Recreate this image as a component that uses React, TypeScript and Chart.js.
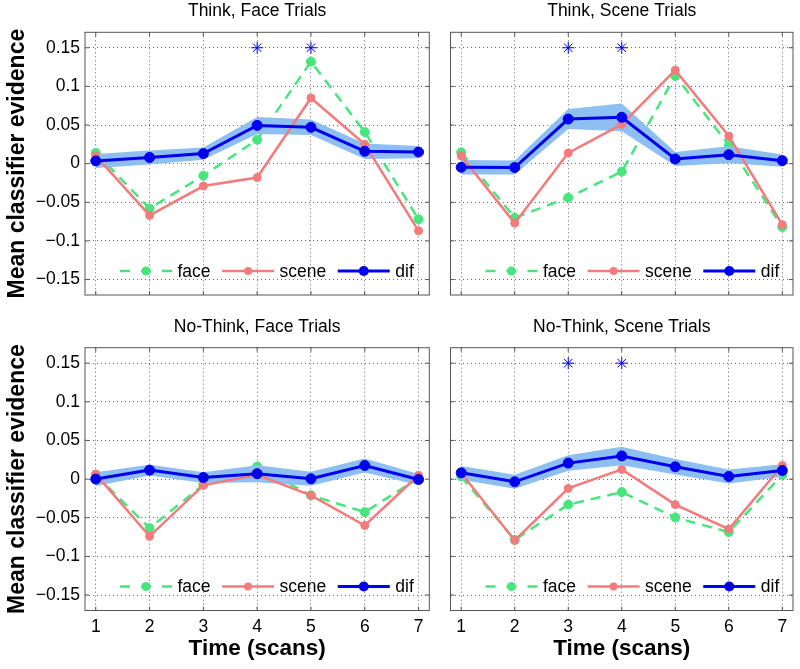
import React, { useEffect, useRef } from 'react';
import { Chart, registerables } from 'chart.js';
Chart.register(...registerables);

const FONT = '"Liberation Sans", Arial, Helvetica, sans-serif';

// ---------- data ----------
const times = [1, 2, 3, 4, 5, 6, 7];
const xTickLabels = ['1', '2', '3', '4', '5', '6', '7'];
const yTickValues = [-0.15, -0.1, -0.05, 0, 0.05, 0.1, 0.15];
const yTickLabels = ['\u22120.15', '\u22120.1', '\u22120.05', '0', '0.05', '0.1', '0.15'];
const seriesLabels = ['face', 'scene', 'dif'];
const panelTitles = ['Think, Face Trials', 'Think, Scene Trials', 'No-Think, Face Trials', 'No-Think, Scene Trials'];
const yAxisTitle = 'Mean classifier evidence';
const xAxisTitle = 'Time (scans)';
const starLevel = 0.15;

const thinkFaceFace = [0.014, -0.058, -0.0155, 0.031, 0.132, 0.041, -0.072];
const thinkFaceScene = [0.010, -0.067, -0.029, -0.018, 0.085, 0.025, -0.087];
const thinkFaceDif = [0.0035, 0.008, 0.013, 0.0495, 0.047, 0.016, 0.015];
const thinkFaceErr = [0.009, 0.009, 0.008, 0.011, 0.010, 0.010, 0.008];
const thinkFaceStars = [4, 5];

const thinkSceneFace = [0.0146, -0.070, -0.044, -0.0103, 0.1137, 0.024, -0.082];
const thinkSceneScene = [0.010, -0.077, 0.0138, 0.0508, 0.121, 0.0357, -0.079];
const thinkSceneDif = [-0.0047, -0.005, 0.0577, 0.060, 0.006, 0.0116, 0.0039];
const thinkSceneErr = [0.0095, 0.009, 0.013, 0.018, 0.009, 0.011, 0.008];
const thinkSceneStars = [3, 4];

const noThinkFaceFace = [0.0055, -0.0634, -0.0074, 0.0163, -0.021, -0.0427, 0.001];
const noThinkFaceScene = [0.0065, -0.074, -0.008, 0.0055, -0.021, -0.060, 0.005];
const noThinkFaceDif = [0.0, 0.0116, 0.002, 0.007, 0.0004, 0.0176, -0.0005];
const noThinkFaceErr = [0.009, 0.007, 0.007, 0.011, 0.009, 0.009, 0.007];
const noThinkFaceStars: number[] = [];

const noThinkSceneFace = [0.0034, -0.0785, -0.033, -0.0168, -0.0497, -0.0686, 0.0055];
const noThinkSceneScene = [0.0078, -0.0794, -0.012, 0.0125, -0.033, -0.0647, 0.0176];
const noThinkSceneDif = [0.0081, -0.0035, 0.0207, 0.030, 0.0159, 0.0034, 0.0111];
const noThinkSceneErr = [0.009, 0.009, 0.010, 0.012, 0.010, 0.009, 0.008];
const noThinkSceneStars = [3, 4];

// ---------- style ----------
const FACE = '#46e67c';
const SCENE = '#f37b7b';
const DIF = '#0000ee';
const BAND = '#8ebff2';
const GRID = 'rgba(0,0,0,0.6)';
const BOX = '#555555';

type PanelDef = {
  title: string;
  face: number[]; scene: number[]; dif: number[]; err: number[]; stars: number[];
  left: number; top: number; width: number; height: number;
  showY: boolean; showX: boolean;
  yWidth: number; xHeight: number;
  pad: { top: number; right: number; bottom: number; left: number };
};

const panels: PanelDef[] = [
  { title: panelTitles[0], face: thinkFaceFace, scene: thinkFaceScene, dif: thinkFaceDif, err: thinkFaceErr, stars: thinkFaceStars,
    left: 0, top: 0, width: 440, height: 311, showY: true, showX: false, yWidth: 85, xHeight: 16,
    pad: { top: 32.3, right: 10.7, bottom: 0, left: 0 } },
  { title: panelTitles[1], face: thinkSceneFace, scene: thinkSceneScene, dif: thinkSceneDif, err: thinkSceneErr, stars: thinkSceneStars,
    left: 440, top: 0, width: 360, height: 311, showY: false, showX: false, yWidth: 10.5, xHeight: 16,
    pad: { top: 32.3, right: 5, bottom: 0, left: 0 } },
  { title: panelTitles[2], face: noThinkFaceFace, scene: noThinkFaceScene, dif: noThinkFaceDif, err: noThinkFaceErr, stars: noThinkFaceStars,
    left: 0, top: 311, width: 440, height: 358, showY: true, showX: true, yWidth: 85, xHeight: 58.5,
    pad: { top: 36.7, right: 10.7, bottom: 0, left: 0 } },
  { title: panelTitles[3], face: noThinkSceneFace, scene: noThinkSceneScene, dif: noThinkSceneDif, err: noThinkSceneErr, stars: noThinkSceneStars,
    left: 440, top: 311, width: 360, height: 358, showY: false, showX: true, yWidth: 10.5, xHeight: 58.5,
    pad: { top: 36.7, right: 5, bottom: 0, left: 0 } },
];

const pts = (ys: number[]) => times.map((t, i) => ({ x: t, y: ys[i] }));

function makeDecor(def: PanelDef) {
  return {
    id: 'panelDecor',
    afterDraw(chart: any) {
      const { ctx, chartArea: a, scales } = chart;
      ctx.save();
      // title
      ctx.fillStyle = '#000';
      ctx.font = `17.5px ${FONT}`;
      ctx.textAlign = 'center';
      ctx.textBaseline = 'middle';
      ctx.fillText(def.title, (a.left + a.right) / 2, a.top - 21);
      // box + inner ticks
      ctx.strokeStyle = BOX;
      ctx.lineWidth = 1;
      ctx.setLineDash([]);
      ctx.strokeRect(a.left, a.top, a.right - a.left, a.bottom - a.top);
      ctx.beginPath();
      for (const t of times) {
        const px = scales.x.getPixelForValue(t);
        ctx.moveTo(px, a.bottom); ctx.lineTo(px, a.bottom - 4);
        ctx.moveTo(px, a.top); ctx.lineTo(px, a.top + 4);
      }
      for (const v of yTickValues) {
        const py = scales.y.getPixelForValue(v);
        ctx.moveTo(a.left, py); ctx.lineTo(a.left + 4, py);
        ctx.moveTo(a.right, py); ctx.lineTo(a.right - 4, py);
      }
      ctx.stroke();
      // legend
      const colors = [FACE, SCENE, DIF];
      const widths = [2.5, 2.5, 3];
      const radii = [4.5, 4, 5];
      const dashes = [[10, 11], [], []];
      let x = a.left + 35;
      const y = a.bottom - 24;
      ctx.font = `17.5px ${FONT}`;
      ctx.textAlign = 'left';
      ctx.textBaseline = 'middle';
      seriesLabels.forEach((lab, i) => {
        ctx.strokeStyle = colors[i];
        ctx.lineWidth = widths[i];
        ctx.setLineDash(dashes[i]);
        ctx.beginPath();
        ctx.moveTo(x, y); ctx.lineTo(x + 52, y);
        ctx.stroke();
        ctx.setLineDash([]);
        ctx.fillStyle = colors[i];
        ctx.beginPath();
        ctx.arc(x + 26, y, radii[i], 0, Math.PI * 2);
        ctx.fill();
        ctx.fillStyle = '#000';
        const tx = x + 57.5;
        ctx.fillText(lab, tx, y + 1);
        x = tx + ctx.measureText(lab).width + 11.5;
      });
      ctx.restore();
    },
  };
}

function Panel({ def }: { def: PanelDef }) {
  const ref = useRef<HTMLCanvasElement>(null);
  useEffect(() => {
    if (!ref.current) return;
    const lower = def.dif.map((d, i) => d - def.err[i]);
    const upper = def.dif.map((d, i) => d + def.err[i]);
    const chart = new Chart(ref.current, {
      type: 'line',
      data: {
        datasets: [
          { label: 'stars', data: def.stars.map((t) => ({ x: t, y: starLevel })), showLine: false,
            pointStyle: 'star', pointRadius: 6, borderColor: DIF, backgroundColor: DIF, borderWidth: 1, order: 0 } as any,
          { label: seriesLabels[2], data: pts(def.dif), borderColor: DIF, backgroundColor: DIF, borderWidth: 3,
            pointRadius: 5, pointBorderWidth: 1, fill: false, order: 1 },
          { label: seriesLabels[1], data: pts(def.scene), borderColor: SCENE, backgroundColor: SCENE, borderWidth: 2.5,
            pointRadius: 4, pointBorderWidth: 1, fill: false, order: 2 },
          { label: 'lower', data: pts(lower), borderWidth: 0, borderColor: 'rgba(0,0,0,0)', pointRadius: 0, fill: false, order: 4 },
          { label: 'upper', data: pts(upper), borderWidth: 0, borderColor: 'rgba(0,0,0,0)', pointRadius: 0,
            fill: '-1', backgroundColor: BAND, order: 3 },
          { label: seriesLabels[0], data: pts(def.face), borderColor: FACE, backgroundColor: FACE, borderWidth: 2.5,
            borderDash: [10, 7], pointRadius: 4.5, pointBorderWidth: 1, fill: false, order: 5 },
        ],
      },
      options: {
        responsive: false,
        animation: false,
        events: [],
        layout: { padding: def.pad },
        plugins: { legend: { display: false }, tooltip: { enabled: false }, title: { display: false } },
        scales: {
          x: {
            type: 'linear', min: 0.8, max: 7.2,
            afterBuildTicks: (s: any) => { s.ticks = times.map((v) => ({ value: v })); },
            afterFit: (s: any) => { s.height = def.xHeight; },
            ticks: {
              display: def.showX, padding: 6, color: '#000', font: { family: FONT, size: 17.5 },
              maxRotation: 0, autoSkip: false,
              callback: (v: any) => xTickLabels[times.indexOf(Number(v))] ?? '',
            },
            grid: { color: GRID, lineWidth: 1, drawTicks: false },
            border: { display: false, dash: [1, 3] },
            title: {
              display: def.showX, text: xAxisTitle, color: '#000',
              font: { family: FONT, size: 22.5, weight: 'bold' }, padding: { top: 0, bottom: 6.5 },
            },
          },
          y: {
            type: 'linear', min: -0.17, max: 0.17,
            afterBuildTicks: (s: any) => { s.ticks = yTickValues.map((v) => ({ value: v })); },
            afterFit: (s: any) => { s.width = def.yWidth; },
            ticks: {
              display: def.showY, padding: 5, color: '#000', font: { family: FONT, size: 17.5 },
              autoSkip: false,
              callback: (v: any) => {
                const i = yTickValues.findIndex((t) => Math.abs(t - Number(v)) < 1e-9);
                return i >= 0 ? yTickLabels[i] : '';
              },
            },
            grid: { color: GRID, lineWidth: 1, drawTicks: false },
            border: { display: false, dash: [1, 3] },
            title: {
              display: def.showY, text: yAxisTitle, color: '#000',
              font: { family: FONT, size: 23, weight: 'bold' }, padding: { top: 4, bottom: 0 },
            },
          },
        },
      } as any,
      plugins: [makeDecor(def)],
    });
    return () => chart.destroy();
  }, [def]);
  return (
    <canvas
      ref={ref}
      width={def.width}
      height={def.height}
      style={{ position: 'absolute', left: def.left, top: def.top, width: def.width, height: def.height, display: 'block' }}
    />
  );
}

export default function App() {
  return (
    <div style={{ position: 'absolute', left: 0, top: 0, width: 800, height: 669, background: '#fff', overflow: 'hidden' }}>
      {panels.map((p) => (
        <Panel key={p.title} def={p} />
      ))}
    </div>
  );
}
